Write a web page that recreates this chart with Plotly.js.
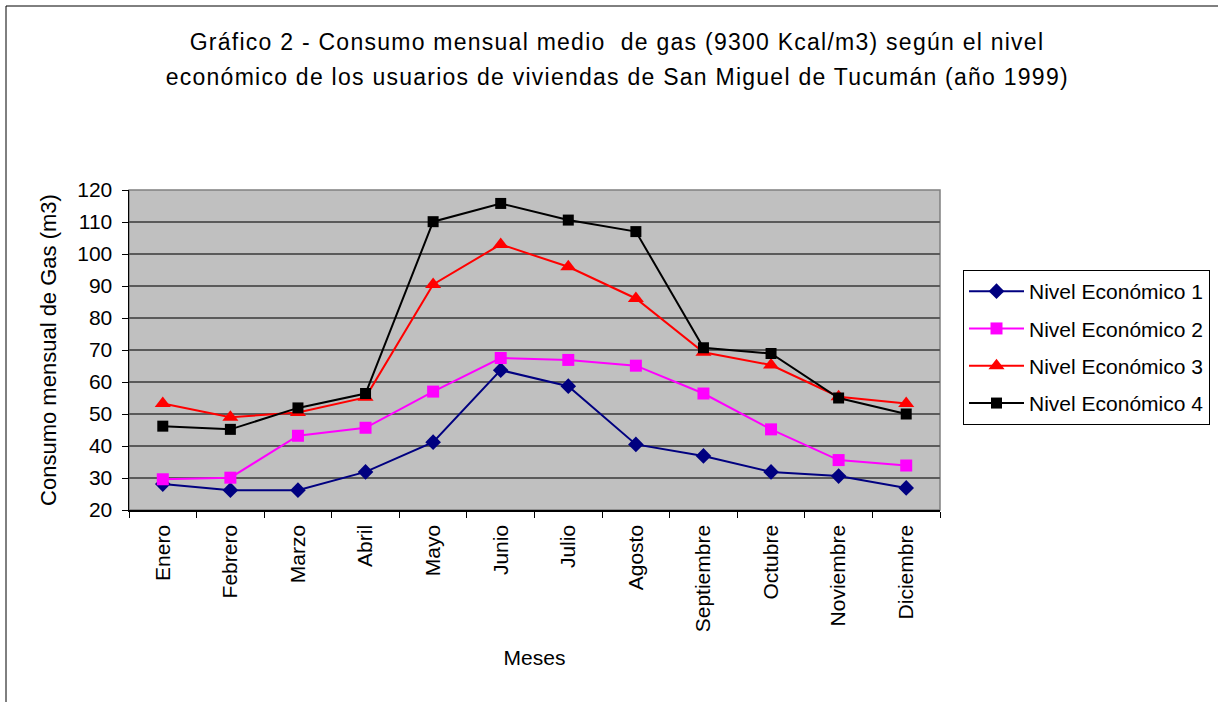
<!DOCTYPE html>
<html>
<head>
<meta charset="utf-8">
<script src="https://cdn.plot.ly/plotly-3.0.1.min.js"></script>
<style>
  html, body { margin: 0; padding: 0; background: #fff; }
  #chart { width: 1218px; height: 702px; }
  #chart .gtitle, #chart .annotation-text { letter-spacing: 1.25px; }
</style>
</head>
<body>
<div id="chart"></div>
<script>
const meses = ['Enero','Febrero','Marzo','Abril','Mayo','Junio','Julio','Agosto','Septiembre','Octubre','Noviembre','Diciembre'];
const nivel1 = [28.1, 26.2, 26.2, 31.9, 41.2, 63.7, 58.7, 40.5, 36.9, 31.9, 30.6, 26.9];
const nivel2 = [29.6, 30.1, 43.2, 45.7, 57.0, 67.5, 66.9, 65.1, 56.4, 45.2, 35.6, 33.9];
const nivel3 = [53.3, 49.0, 50.5, 55.2, 90.5, 103.0, 96.0, 86.1, 69.3, 65.3, 55.4, 53.3];
const nivel4 = [46.2, 45.2, 51.9, 56.4, 110.1, 115.8, 110.6, 107.0, 70.7, 68.9, 55.0, 50.0];
const nombres = ['Nivel Económico 1','Nivel Económico 2','Nivel Económico 3','Nivel Económico 4'];
const yTicks = [20, 30, 40, 50, 60, 70, 80, 90, 100, 110, 120];

const FONT = '"Liberation Sans", Arial, sans-serif';

const estilos = [
  {color: '#000080', symbol: 'diamond', size: 12},
  {color: '#FF00FF', symbol: 'square', size: 12},
  {color: '#FF0000', symbol: 'triangle-up', size: 14},
  {color: '#000000', symbol: 'square', size: 11}
];
const series = [nivel1, nivel2, nivel3, nivel4];

const traces = series.map((vals, i) => ({
  type: 'scatter',
  mode: 'lines+markers',
  x: meses,
  y: vals,
  name: nombres[i],
  legendgroup: 'g' + i,
  line: {color: estilos[i].color, width: 2},
  marker: {color: estilos[i].color, symbol: estilos[i].symbol, size: estilos[i].size, line: {width: 0}},
  cliponaxis: false
}));

const layout = {
  width: 1218,
  height: 702,
  margin: {l: 129, r: 278, t: 190, b: 192, pad: 0, autoexpand: false},
  paper_bgcolor: '#ffffff',
  plot_bgcolor: '#C0C0C0',
  font: {family: FONT, size: 21, color: '#000'},
  title: {
    text: 'Gráfico 2 - Consumo mensual medio\u00a0 de gas (9300 Kcal/m3) según el nivel',
    font: {family: FONT, size: 23, color: '#000'},
    xref: 'container', yref: 'container',
    x: 617 / 1218, y: 1 - 42 / 702,
    xanchor: 'center', yanchor: 'middle'
  },
  annotations: [{
    text: 'económico de los usuarios de viviendas de San Miguel de Tucumán (año 1999)',
    font: {family: FONT, size: 23, color: '#000'},
    xref: 'paper', yref: 'paper',
    x: (617 - 129) / 811, y: (510 - 77) / 320,
    xanchor: 'center', yanchor: 'middle',
    showarrow: false
  }],
  xaxis: {
    type: 'category',
    range: [-0.5, 11.5],
    tickangle: -90,
    tickson: 'boundaries',
    ticks: 'outside',
    ticklen: 6,
    tickcolor: '#000',
    tickwidth: 1,
    showline: true,
    linecolor: '#000',
    linewidth: 1.5,
    showgrid: false,
    zeroline: false,
    tickfont: {family: FONT, size: 21, color: '#000'},
    ticklabelstandoff: 5,
    title: {text: 'Meses', font: {family: FONT, size: 21, color: '#000'}, standoff: 19},
    automargin: false,
    fixedrange: true
  },
  yaxis: {
    range: [20, 120],
    tickvals: yTicks,
    ticktext: yTicks.map(String),
    ticks: 'outside',
    ticklen: 6,
    tickcolor: '#000',
    tickwidth: 1,
    showline: true,
    linecolor: '#000',
    linewidth: 1.5,
    showgrid: true,
    gridcolor: '#5a5a5a',
    gridwidth: 1.5,
    zeroline: false,
    tickfont: {family: FONT, size: 21, color: '#000'},
    ticklabelstandoff: 5,
    title: {text: 'Consumo mensual de Gas (m3)', font: {family: FONT, size: 22, color: '#000'}, standoff: 14},
    automargin: false,
    fixedrange: true
  },
  showlegend: true,
  legend: {
    x: (963 - 129) / 811, y: (510 - 270) / 320,
    xanchor: 'left', yanchor: 'top',
    bgcolor: '#ffffff',
    bordercolor: '#000',
    borderwidth: 1,
    font: {family: FONT, size: 21, color: '#000'},
    traceorder: 'grouped',
    tracegroupgap: 7,
    itemwidth: 55
  },
  shapes: [
    {type: 'rect', xref: 'paper', yref: 'paper', x0: 0, x1: 1, y0: 0, y1: 1,
     line: {color: '#808080', width: 1.5}, fillcolor: 'rgba(0,0,0,0)', layer: 'below'},
    {type: 'rect', xref: 'paper', yref: 'paper',
     x0: (6 - 129) / 811, x1: (1240 - 129) / 811,
     y0: (510 - 720) / 320, y1: (510 - 6) / 320,
     line: {color: '#000', width: 1}, fillcolor: 'rgba(0,0,0,0)', layer: 'below'}
  ]
};

Plotly.newPlot('chart', traces, layout, {displayModeBar: false, staticPlot: true});
</script>
</body>
</html>
